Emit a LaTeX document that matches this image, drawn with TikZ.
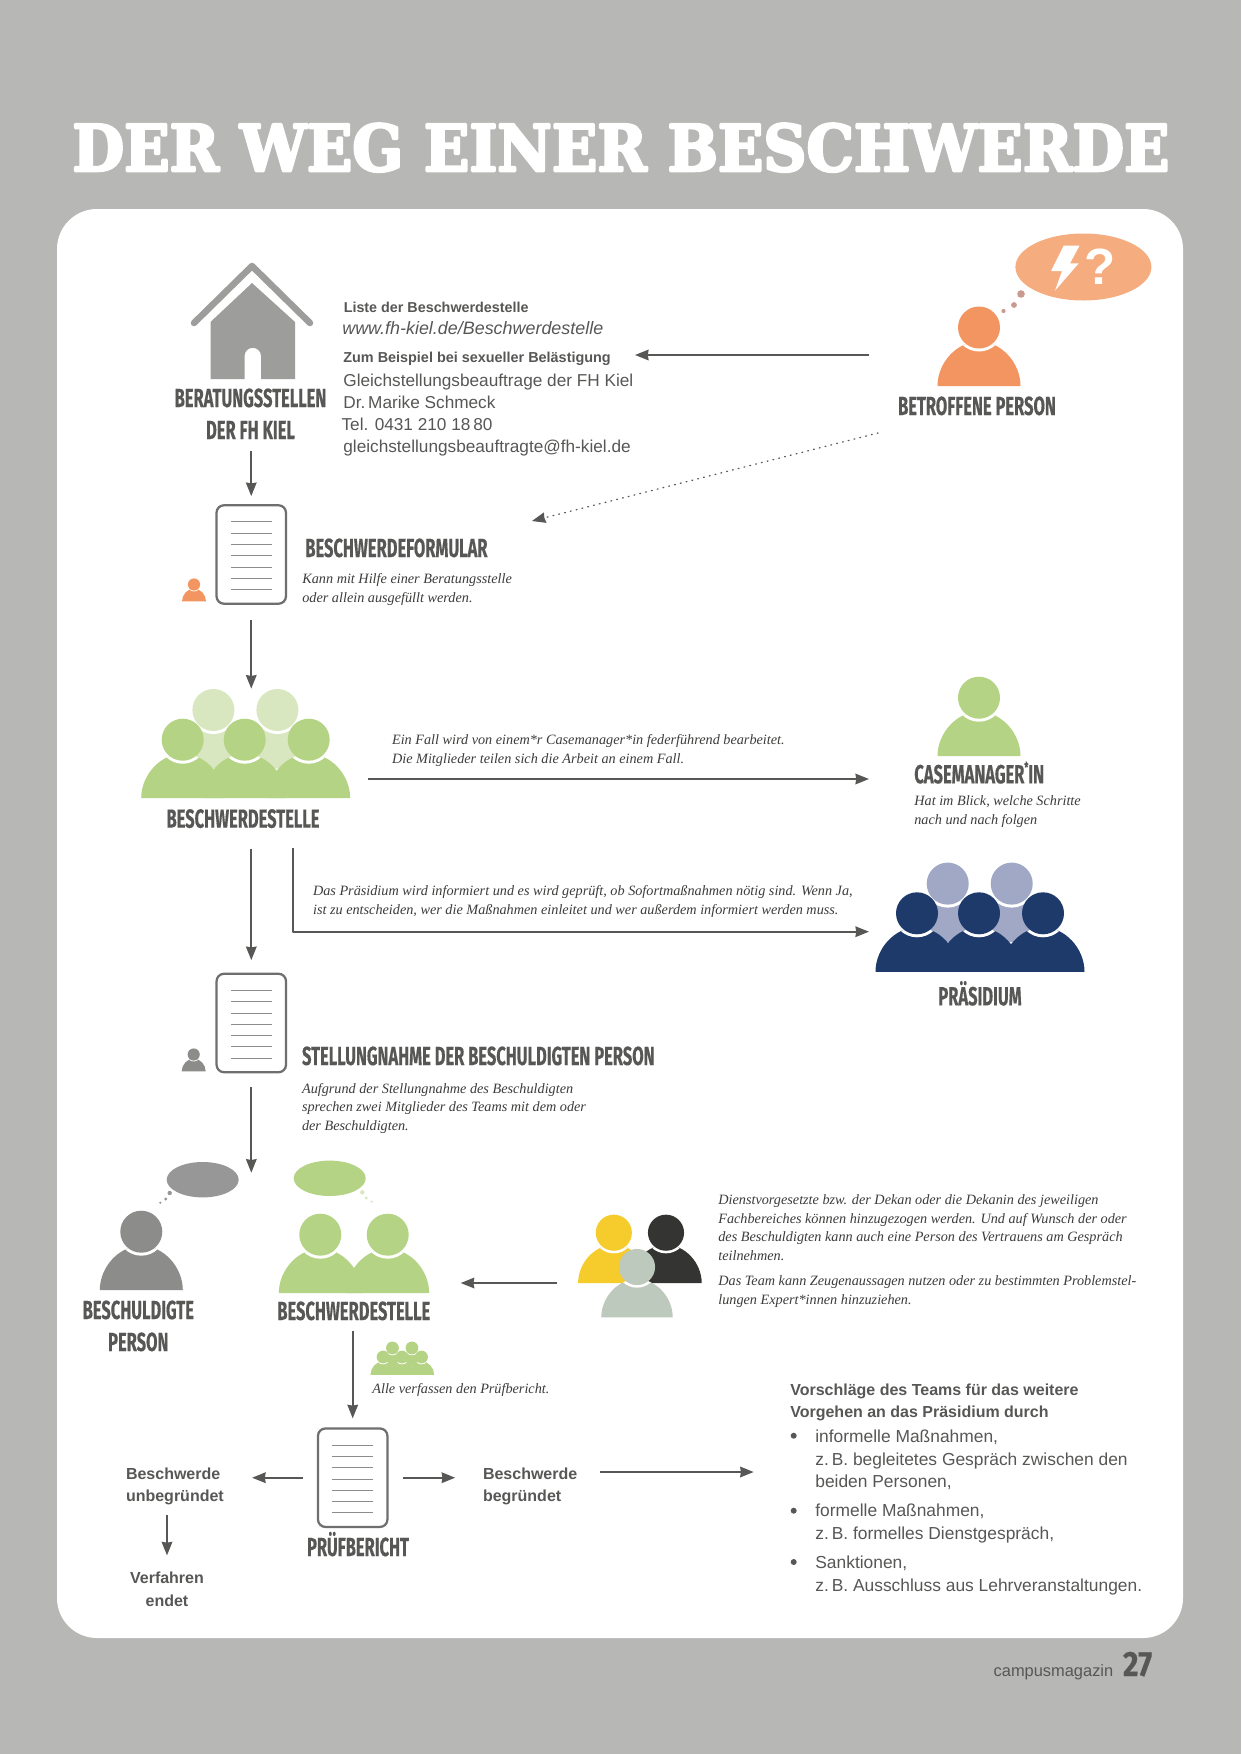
\documentclass[tikz,border=0pt]{standalone}
\usepackage{fontspec}
\usetikzlibrary{arrows.meta,fit}
\setmainfont{Liberation Sans}
\newfontfamily\kursivfont{Liberation Serif}
\newfontfamily\kopffont[FakeStretch=0.63,FakeBold=0.3]{Fira Sans}
\newfontfamily\seitenfont[FakeStretch=0.85,FakeBold=0.5]{Fira Sans}
\newfontfamily\titelfont[FakeStretch=0.93,FakeBold=4]{DejaVu Serif}

\definecolor{seitengrau}{RGB}{183,183,181}
\definecolor{textgrau}{RGB}{87,87,86}
\definecolor{kursivgrau}{RGB}{60,60,59}
\definecolor{hausgrau}{RGB}{157,157,156}
\definecolor{randgrau}{RGB}{112,111,111}
\definecolor{zeilengrau}{RGB}{140,140,139}
\definecolor{personorange}{RGB}{243,149,96}
\definecolor{blasenorange}{RGB}{245,173,128}
\definecolor{punktrosa}{RGB}{200,154,144}
\definecolor{stellegruen}{RGB}{181,211,132}
\definecolor{stellehell}{RGB}{217,231,192}
\definecolor{personblau}{RGB}{29,58,107}
\definecolor{blauhell}{RGB}{160,168,198}
\definecolor{personmittel}{RGB}{140,140,139}
\definecolor{teamgelb}{RGB}{246,203,44}
\definecolor{teamschwarz}{RGB}{52,52,51}
\definecolor{teamsalbei}{RGB}{189,201,188}

\newcommand{\leibpfad}{(-41.5,58.5) .. controls (-41.5,35) and (-22,14) .. (0,14) .. controls (22,14) and (41.5,35) .. (41.5,58.5) -- cycle}
\newcommand{\leib}[3]{\fill[#3,shift={(#1,#2)}] \leibpfad;}
\newcommand{\kopf}[3]{\begin{scope}\clip[shift={(#1,#2)}] \leibpfad; \fill[white] (#1,#2) circle[radius=24]; \end{scope}
    \fill[#3] (#1,#2) circle[radius=21];}
\newcommand{\person}[4]{\begin{scope}[shift={(#1,#2)},scale=#3] \leib{0}{0}{#4} \kopf{0}{0}{#4} \end{scope}}
\newcommand{\gruppe}[5]{\begin{scope}[shift={(#1,#2)},scale=#3]
    \foreach \k in {-31.3,32.7} {\leib{\k}{-29.7}{#5}}
    \foreach \k in {-31.3,32.7} {\kopf{\k}{-29.7}{#5}}
    \foreach \k in {-62,0,64} {\leib{\k}{0}{#4}}
    \foreach \k in {-62,0,64} {\kopf{\k}{0}{#4}}
    \end{scope}}
\newcommand{\dokument}[3]{\node[dokbox] (#1) at (#2,#3) {};
    \foreach \k in {-3,...,3} {\draw[zeile] (#2-20.3,#3+1.3+\k*11.3) -- (#2+20.3,#3+1.3+\k*11.3);}}

\begin{document}
\begin{tikzpicture}[x=0.02cm,y=-0.02cm,line cap=butt,line join=round,
    pfeil/.style={textgrau,line width=0.04cm,-{Stealth[length=2.7mm,width=2.1mm,inset=0.15mm]}},
    zeile/.style={zeilengrau,line width=0.02cm},
    dokbox/.style={draw=randgrau,line width=0.045cm,rounded corners=1.5mm,minimum width=1.39cm,minimum height=1.97cm,inner sep=0},
    symbol/.style={inner sep=0},
    kopfzeile/.style={font=\kopffont\bfseries\fontsize{14.9}{18.2}\selectfont,text=textgrau,inner sep=0,align=center,anchor=base},
    kurs/.style={font=\kursivfont\itshape\fontsize{8.1}{10.7}\selectfont,text=kursivgrau,inner sep=0,align=left,anchor=base west},
    grot/.style={font=\fontsize{9.9}{12.9}\selectfont,text=textgrau,inner sep=0,align=left,anchor=base west},
    fett/.style={font=\bfseries\fontsize{9.1}{12.9}\selectfont,text=textgrau,inner sep=0,align=left,anchor=base west}]
    \useasboundingbox (0,0) rectangle (1241,1754);
    \fill[seitengrau] (0,0) rectangle (1241,1754);
    \fill[white,rounded corners=8mm] (57,209) rectangle (1183,1638);
    \node[font=\titelfont\bfseries\fontsize{36.5}{38}\selectfont,text=white,inner sep=0,anchor=base] (titel) at (621,171) {DER WEG EINER BESCHWERDE};

    % Beratungsstellen
    \draw[hausgrau,line width=0.13cm,line cap=round] (194,323) -- (252,266) -- (310,323);
    \fill[hausgrau] (252,283) -- (295,322) -- (295,379) -- (261,379) -- (261,356) arc[start angle=0,end angle=-180,radius=8.25] -- (244.5,379) -- (210.5,379) -- (210.5,322) -- cycle;
    \node[kopfzeile] (beratung) at (250.5,439) {BERATUNGSSTELLEN\\DER FH KIEL};
    \node[fett,font=\bfseries\fontsize{8.16}{12.9}\selectfont] (liste) at (343.4,312) {Liste der Beschwerdestelle};
    \node[grot,font=\itshape\fontsize{10.2}{12.9}\selectfont] (adresse) at (342,334) {www.fh-kiel.de/Beschwerdestelle};
    \node[fett,font=\bfseries\fontsize{8.2}{12.9}\selectfont] (beispiel) at (343,362) {Zum Beispiel bei sexueller Belästigung};
    \node[grot,font=\fontsize{9.8}{12.35}\selectfont] (kontakt) at (343,452) {Gleichstellungsbeauftrage der FH Kiel\\Dr.\,Marike Schmeck\\\kern-1pt Tel. 0431 210 18\,80\\gleichstellungsbeauftragte@fh-kiel.de};

    % Betroffene Person
    \fill[blasenorange] (1083.4,267) ellipse[x radius=68,y radius=33.5];
    \fill[punktrosa] (1021,294) circle[radius=3.8] (1014,305) circle[radius=2.9] (1003.5,311) circle[radius=2.1];
    \fill[white] (1063.7,245.7) -- (1079.5,245.7) -- (1070,263.3) -- (1078.7,263.3) -- (1055,290.7) -- (1062,271) -- (1051,271) -- cycle;
    \node[font=\bfseries\fontsize{29}{29}\selectfont,text=white,inner sep=0,anchor=base] (frage) at (1100,284) {?};
    \person{979}{327.5}{1}{personorange}
    \node[symbol,fit={(938,306)(1020.5,386)}] (betroffene) {};
    \node[kopfzeile] (betroffeneText) at (977,415) {BETROFFENE PERSON};
    \coordinate (meldungStart) at (869,355);
    \coordinate (meldungEnde) at (635,355);
    \coordinate (dotStart) at (878,433);
    \coordinate (dotEnde) at (532,521);
    \draw[pfeil] (meldungStart) -- (meldungEnde);
    \draw[pfeil,line width=0.025cm,dash pattern=on 0.5pt off 2.9pt,line cap=round] (dotStart) -- (dotEnde);

    % Beschwerdeformular
    \dokument{formular}{251.25}{554.5}
    \person{194}{584.5}{0.29}{personorange}
    \node[kopfzeile,anchor=base west] (formularText) at (305,557) {BESCHWERDEFORMULAR};
    \node[kurs] (formularHilfe) at (302,602) {Kann mit Hilfe einer Beratungsstelle\\oder allein ausgefüllt werden.};
    \draw[pfeil,shorten <=2.4mm,shorten >=1.6mm] (beratung.south -| formular.north) -- (formular.north);

    % Beschwerdestelle
    \gruppe{244.7}{739.7}{1}{stellegruen}{stellehell}
    \node[symbol,fit={(141.7,689)(350,798)}] (stelle) {};
    \node[kopfzeile] (stelleText) at (243,827.7) {BESCHWERDESTELLE};
    \draw[pfeil,shorten <=3mm] (formular.south) -- (formular.south |- stelle.north);
    \node[kurs] (fallText) at (391.7,763.7) {Ein Fall wird von einem*r Casemanager*in federführend bearbeitet.\\Die Mitglieder teilen sich die Arbeit an einem Fall.};
    \coordinate (fallStart) at (368,779);
    \coordinate (fallEnde) at (869,779);
    \draw[pfeil] (fallStart) -- (fallEnde);

    % Casemanager*in
    \person{979}{697.7}{1}{stellegruen}
    \node[symbol,fit={(938,676)(1020.5,756)}] (casemanager) {};
    \node[kopfzeile,anchor=base west] (casemanagerText) at (914,783.3) {CASEMANAGER{\raisebox{0.8ex}{\fontsize{8}{8}\selectfont *}}IN};
    \node[kurs] (casemanagerHilfe) at (914,824.7) {Hat im Blick, welche Schritte\\nach und nach folgen};

    % Praesidium
    \gruppe{979}{913.3}{1}{personblau}{blauhell}
    \node[symbol,fit={(876,862)(1084.7,972)}] (praesidium) {};
    \node[kopfzeile] (praesidiumText) at (980,1005.3) {PRÄSIDIUM};
    \coordinate (infoStart) at (292.7,848);
    \coordinate (infoEnde) at (869,931.7);
    \draw[pfeil] (infoStart) |- (infoEnde);
    \node[kurs] (infoText) at (312.7,914) {Das Präsidium wird informiert und es wird geprüft, ob Sofortmaßnahmen nötig sind. Wenn Ja,\\ist zu entscheiden, wer die Maßnahmen einleitet und wer außerdem informiert werden muss.};

    % Stellungnahme
    \dokument{stellung}{251.3}{1023}
    \person{193.7}{1054.5}{0.29}{personmittel}
    \node[kopfzeile,anchor=base west] (stellungText) at (301.7,1065) {STELLUNGNAHME DER BESCHULDIGTEN PERSON};
    \node[kurs] (stellungHilfe) at (301.7,1130.7) {Aufgrund der Stellungnahme des Beschuldigten\\sprechen zwei Mitglieder des Teams mit dem oder\\der Beschuldigten.};
    \draw[pfeil,shorten <=4mm,shorten >=2.5mm] (stelleText.south -| stellung.north) -- (stellung.north);
    \coordinate (gespraech) at (251.3,1172.7);
    \draw[pfeil,shorten <=2.8mm] (stellung.south) -- (gespraech);

    % Beschuldigte Person und Gespraech
    \fill[personmittel!90] (202.7,1179.7) ellipse[x radius=36,y radius=17.7];
    \fill[personmittel!90] (169.7,1193) circle[radius=2.2] (165.7,1199) circle[radius=1.6] (160.3,1202.7) circle[radius=1.2];
    \person{141.3}{1231.7}{1}{personmittel}
    \node[symbol,fit={(100,1211)(183,1290)}] (beschuldigte) {};
    \node[kopfzeile] (beschuldigteText) at (138.3,1351) {BESCHULDIGTE\\PERSON};
    \fill[stellegruen] (329.7,1178.3) ellipse[x radius=36,y radius=17.7];
    \fill[stellehell] (362.3,1192.3) circle[radius=2.2] (366.3,1198) circle[radius=1.6] (371.7,1201.7) circle[radius=1.2];
    \begin{scope}[shift={(354,1234.7)}]
        \foreach \k in {-33.7,33.7} {\leib{\k}{0}{stellegruen}}
        \foreach \k in {-33.7,33.7} {\kopf{\k}{0}{stellegruen}}
    \end{scope}
    \node[symbol,fit={(279,1214)(429,1293)}] (stelleZwei) {};
    \node[kopfzeile] (stelleZweiText) at (353.8,1320) {BESCHWERDESTELLE};

    % Weitere Personen
    \person{613.8}{1232.7}{0.86}{teamgelb}
    \person{666}{1232.7}{0.86}{teamschwarz}
    \person{637}{1267}{0.86}{teamsalbei}
    \node[symbol,fit={(578,1214)(702,1318)}] (team) {};
    \node[kurs] (teamText) at (718,1260.7) {Dienstvorgesetzte bzw. der Dekan oder die Dekanin des jeweiligen\\Fachbereiches können hinzugezogen werden. Und auf Wunsch der oder\\des Beschuldigten kann auch eine Person des Vertrauens am Gespräch\\teilnehmen.};
    \node[kurs] (teamZwei) at (718,1304) {Das Team kann Zeugenaussagen nutzen oder zu bestimmten Problemstel-\\lungen Expert*innen hinzuziehen.};
    \coordinate (teamStart) at (557,1283);
    \coordinate (teamEnde) at (460.7,1283);
    \draw[pfeil] (teamStart) -- (teamEnde);

    % Pruefbericht
    \dokument{bericht}{352.7}{1477.7}
    \gruppe{402}{1357}{0.305}{stellegruen}{stellegruen}
    \node[kurs] (alleText) at (372,1393) {Alle verfassen den Prüfbericht.};
    \node[kopfzeile] (berichtText) at (358,1556) {PRÜFBERICHT};
    \draw[pfeil,shorten <=2mm,shorten >=1.8mm] (stelleZweiText.south -| bericht.north) -- (bericht.north);
    \node[fett] (unbegruendet) at (125.7,1501.7) {Beschwerde\\unbegründet};
    \node[fett] (begruendet) at (482.7,1501.7) {Beschwerde\\begründet};
    \node[fett,align=center,anchor=base] (verfahren) at (167,1606) {Verfahren\\endet};
    \draw[pfeil,shorten <=2.7mm,shorten >=5.6mm] (bericht.west) -- (bericht.west -| unbegruendet.east);
    \draw[pfeil,shorten <=2.9mm,shorten >=5.5mm] (bericht.east) -- (bericht.east -| begruendet.west);
    \draw[pfeil,shorten <=2mm,shorten >=3.2mm] (verfahren.north |- unbegruendet.south) -- (verfahren.north);

    % Vorschlaege
    \coordinate (vorschlagStart) at (599.5,1472);
    \coordinate (vorschlagEnde) at (753.7,1472);
    \draw[pfeil] (vorschlagStart) -- (vorschlagEnde);
    \node[fett] (vorschlag) at (790,1417.7) {Vorschläge des Teams für das weitere\\Vorgehen an das Präsidium durch};
    \foreach \y in {1435.7,1510.7,1562} {\fill[textgrau] (793.7,\y) circle[radius=3];}
    \node[grot] (informell) at (815,1487.7) {informelle Maßnahmen,\\z.\,B. begleitetes Gespräch zwischen den\\beiden Personen,};
    \node[grot] (formell) at (815,1539.3) {formelle Maßnahmen,\\z.\,B. formelles Dienstgespräch,};
    \node[grot] (sanktion) at (815,1591.3) {Sanktionen,\\z.\,B. Ausschluss aus Lehrveranstaltungen.};

    % Fusszeile
    \node[grot,font=\fontsize{9.35}{12}\selectfont] (magazin) at (993.3,1676.7) {campusmagazin};
    \node[kopfzeile,font=\seitenfont\bfseries\fontsize{20}{20}\selectfont,anchor=base west] (seite) at (1122.7,1676) {27};
\end{tikzpicture}
\end{document}
